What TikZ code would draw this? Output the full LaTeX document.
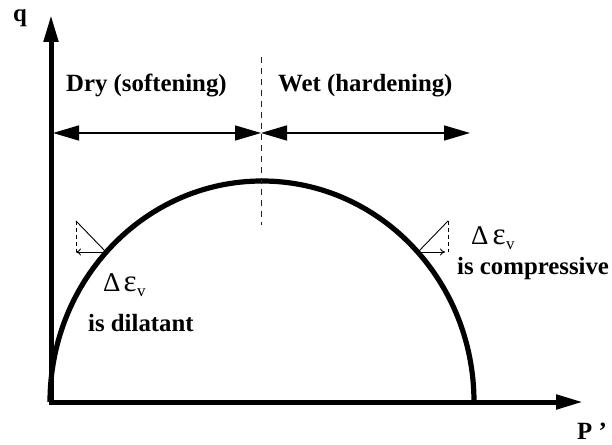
\documentclass[tikz,border=0pt]{standalone}
\usepackage{fontspec}
\setmainfont{Liberation Serif}
\usetikzlibrary{arrows.meta}
\definecolor{divblue}{RGB}{20,20,140}
\begin{document}
\begin{tikzpicture}[x=1pt,y=1pt,
  lbl/.style={inner sep=0pt, anchor=base west, font=\fontsize{24.8}{30}\selectfont\bfseries},
  sym/.style={inner sep=0pt, anchor=base west, font=\fontsize{27}{32}\selectfont},
  axisline/.style={line width=5pt, line join=miter, {Triangle[length=27pt,width=14pt]}-{Triangle[length=27pt,width=14pt]}},
  yieldcurve/.style={line width=5.2pt},
  zone/.style={line width=1.5pt, {Triangle[length=26pt,width=15pt]}-{Triangle[length=26pt,width=15pt]}},
  divider/.style={draw=divblue, line width=0.9pt, dash pattern=on 6pt off 5pt},
  thinline/.style={line width=0.9pt},
  thindash/.style={line width=0.9pt, dash pattern=on 4pt off 3pt},
  flowarrow/.style={line width=0.9pt, -{To[length=5pt,width=7pt]}}
]
\useasboundingbox (0,0) rectangle (612,444);
% axes
\coordinate (O) at (51,42);
\coordinate (ytip) at (51,429);
\coordinate (xtip) at (583,42);
\draw[axisline] (ytip) -- (O) -- (xtip);
% yield curve
\coordinate (A) at (50,42);
\draw[yieldcurve] (A) arc[start angle=180, end angle=0, x radius=212, y radius=221];
% divider
\coordinate (dtop) at (261,387);
\coordinate (dbot) at (261,219);
\draw[divider] (dtop) -- (dbot);
% zone arrows
\coordinate (zl) at (53,311);
\coordinate (zm) at (261,311);
\coordinate (zr) at (470,311);
\draw[zone] (zl) -- (zm);
\draw[zone] (zm) -- (zr);
% left small triangle
\coordinate (Lc) at (106,192);
\coordinate (Lk) at (76,192);
\coordinate (Lt) at (76,223);
\draw[thinline] (Lt) -- (Lc);
\draw[thindash] (Lt) -- (Lk);
\draw[flowarrow] (Lc) -- (Lk);
% right small triangle
\coordinate (Rc) at (418,192);
\coordinate (Rk) at (448,192);
\coordinate (Rt) at (448,223);
\coordinate (Ra) at (445,192);
\draw[thinline] (Rc) -- (Rt);
\draw[thindash] (Rt) -- (Rk);
\draw[flowarrow] (Rc) -- (Ra);
% labels
\node[lbl] (q) at (13,422) {q};
\node[lbl] (P) at (577,5) {P ’};
\node[lbl] (dry) at (66,352) {Dry (softening)};
\node[lbl] (wet) at (278,352) {Wet (hardening)};
\node[sym] (dL) at (103,152) {Δ\kern3pt{\fontsize{31}{32}\selectfont ε}\kern0.5pt\raisebox{-5pt}{\fontsize{17}{17}\selectfont v}};
\node[lbl] (dil) at (88,112) {is dilatant};
\node[sym] (dR) at (471,199) {Δ\kern4pt{\fontsize{31}{32}\selectfont ε}\kern0.5pt\raisebox{-5pt}{\fontsize{17}{17}\selectfont v}};
\node[lbl] (comp) at (457,169) {is compressive};
\end{tikzpicture}
\end{document}
